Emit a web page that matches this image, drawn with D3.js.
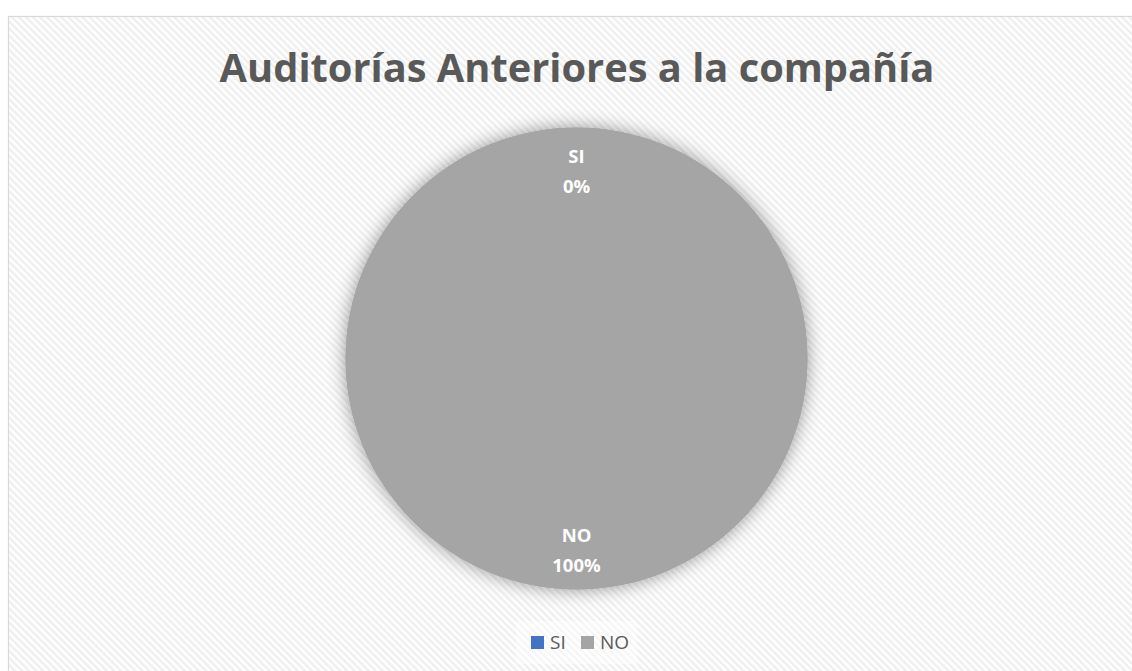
<!DOCTYPE html>
<html>
<head>
<meta charset="utf-8">
<script src="https://cdn.jsdelivr.net/npm/d3@7"></script>
<style>
  html, body { margin: 0; padding: 0; background: #ffffff; overflow: hidden; }
  svg { display: block; }
</style>
</head>
<body>
<svg id="chart" width="1132" height="671"></svg>
<script>
// Survey answers: were there previous audits at the company?
const categories = ["SI", "NO"];
const values = [0, 100];
const colors = ["#4472C4", "#A5A5A5"];
const titleText = "Auditorías Anteriores a la compañía";

const svg = d3.select("#chart");
const defs = svg.append("defs");

// Diagonal light hatching for the chart area
const pat = defs.append("pattern")
  .attr("id", "hatch")
  .attr("patternUnits", "userSpaceOnUse")
  .attr("width", 5).attr("height", 5)
  .attr("patternTransform", "rotate(-45)");
pat.append("rect").attr("width", 5).attr("height", 5).attr("fill", "#ffffff");
pat.append("rect").attr("width", 2.5).attr("height", 5).attr("fill", "#efefef");

// Soft glow shadow behind the pie
const f = defs.append("filter").attr("id", "glow")
  .attr("x", "-20%").attr("y", "-20%").attr("width", "140%").attr("height", "140%");
f.append("feDropShadow")
  .attr("dx", 0).attr("dy", 0)
  .attr("stdDeviation", 9)
  .attr("flood-color", "#000000")
  .attr("flood-opacity", 0.4);

// Chart area
svg.append("rect")
  .attr("x", 8.5).attr("y", 16.5)
  .attr("width", 1140).attr("height", 680)
  .attr("fill", "url(#hatch)")
  .attr("stroke", "#d9d9d9")
  .attr("stroke-width", 1.2);

// Title
const title = svg.append("text")
  .attr("x", 577).attr("y", 82)
  .attr("text-anchor", "middle")
  .attr("font-family", "'Open Sans', 'Noto Sans', sans-serif")
  .attr("font-weight", "bold")
  .attr("font-size", 42)
  .attr("fill", "#595959")
  .text(titleText);
// fit title to its box width
const targetW = 715;
const w0 = title.node().getComputedTextLength();
title.attr("font-size", 42 * targetW / w0);

// Pie
const cx = 576.5, cy = 358.5, R = 231;
const data = categories.map((c, i) => ({ cat: c, value: values[i], color: colors[i] }));
const pie = d3.pie().sort(null).value(d => d.value);
const arcs = pie(data);
const arc = d3.arc().innerRadius(0).outerRadius(R);
const labelArc = d3.arc().innerRadius(R * 0.82).outerRadius(R * 0.82);

const g = svg.append("g").attr("transform", `translate(${cx},${cy})`);

// shadow base
g.append("circle").attr("r", R).attr("fill", "#A5A5A5").attr("filter", "url(#glow)");

g.selectAll("path.slice")
  .data(arcs)
  .join("path")
  .attr("class", "slice")
  .attr("d", arc)
  .attr("fill", d => d.data.color)
  .attr("stroke", "none");

const total = d3.sum(values);
const fmt = d3.format(".0%");
const lbl = g.selectAll("g.lbl")
  .data(arcs)
  .join("g")
  .attr("class", "lbl")
  .attr("transform", d => {
    const [x, y] = labelArc.centroid(d);
    return `translate(${x},${y})`;
  });
lbl.append("text")
  .attr("text-anchor", "middle")
  .attr("y", -6)
  .attr("font-family", "'Open Sans', 'Noto Sans', sans-serif")
  .attr("font-weight", "bold")
  .attr("font-size", 18.5)
  .attr("fill", "#ffffff")
  .text(d => d.data.cat);
lbl.append("text")
  .attr("text-anchor", "middle")
  .attr("y", 24)
  .attr("font-family", "'Open Sans', 'Noto Sans', sans-serif")
  .attr("font-weight", "bold")
  .attr("font-size", 18.5)
  .attr("fill", "#ffffff")
  .text(d => fmt(d.data.value / total));

// Legend with its own faint backing box
svg.append("rect")
  .attr("x", 516).attr("y", 621)
  .attr("width", 121).attr("height", 43)
  .attr("fill", "#ffffff")
  .attr("fill-opacity", 0.45);
const legend = svg.append("g").attr("transform", "translate(531,636)");
const items = legend.selectAll("g").data(data).join("g")
  .attr("transform", (d, i) => `translate(${i * 50},0)`);
items.append("rect").attr("width", 13).attr("height", 13).attr("fill", d => d.color);
items.append("text")
  .attr("x", 19).attr("y", 13)
  .attr("font-family", "'Open Sans', 'Noto Sans', sans-serif")
  .attr("font-size", 19)
  .attr("fill", "#595959")
  .text(d => d.cat);
</script>
</body>
</html>
